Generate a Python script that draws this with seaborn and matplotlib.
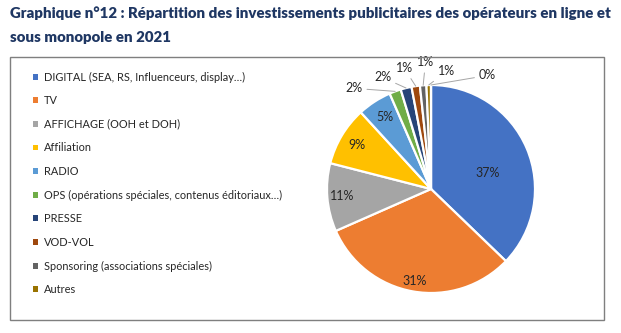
import matplotlib
matplotlib.use("Agg")
import matplotlib.pyplot as plt
import seaborn as sns
import numpy as np
from matplotlib.patches import Rectangle, Patch

# ---------------- data ----------------
categories = [
    "DIGITAL (SEA, RS, Influenceurs, display…)",
    "TV",
    "AFFICHAGE (OOH et DOH)",
    "Affiliation",
    "RADIO",
    "OPS (opérations spéciales, contenus éditoriaux…)",
    "PRESSE",
    "VOD-VOL",
    "Sponsoring (associations spéciales)",
    "Autres",
    "",
]
shares = [37.2, 31.2, 10.6, 9.2, 5.3, 1.8, 1.7, 1.3, 1.0, 0.7, 0.0]
pct_labels = ["37%", "31%", "11%", "9%", "5%", "2%", "2%", "1%", "1%", "1%", "0%"]

# ---------------- style ----------------
sns.set_theme(style="white")
plt.rcParams["font.family"] = ["Lato", "DejaVu Sans"]

colors = sns.color_palette(["#4472C4", "#ED7D31", "#A5A5A5", "#FFC000", "#5B9BD5",
                            "#70AD47", "#264478", "#9E480E", "#636363", "#997300",
                            "#698ED0"])
title_color = "#1F3763"
text_color = "#262626"

W, H = 621, 333
fig = plt.figure(figsize=(W / 100, H / 100), dpi=100)
fig.patch.set_facecolor("white")

# title
t1 = fig.text(10 / W, 1 - 13 / H,
              "Graphique n°12 : Répartition des investissements publicitaires des opérateurs en ligne et",
              fontsize=10, fontweight="heavy", color=title_color, va="center", ha="left")
t2 = fig.text(10 / W, 1 - 37 / H, "sous monopole en 2021",
              fontsize=10, fontweight="heavy", color=title_color, va="center", ha="left")
fig.canvas.draw()
w = t1.get_window_extent().width
fs = 10 * 598 / w
t1.set_fontsize(fs)
t2.set_fontsize(fs)

# frame box
fig.add_artist(Rectangle((10 / W, 1 - 320 / H), (604 - 10) / W, (320 - 57) / H,
                         transform=fig.transFigure, fill=False,
                         edgecolor="#7F7F7F", lw=1.0))

# pie axes
cx, cy, r = 431, 189, 104
ax = fig.add_axes([(cx - r) / W, (H - cy - r) / H, 2 * r / W, 2 * r / H])
wedges, _ = ax.pie(shares, colors=colors, startangle=90, counterclock=False,
                   radius=1.0, normalize=True,
                   wedgeprops=dict(edgecolor="white", linewidth=1.6))
ax.set_xlim(-1, 1)
ax.set_ylim(-1, 1)
ax.set_aspect("equal")
ax.axis("off")

# label placement: angle clockwise from top (deg) and radius fraction
label_angle = [74, None, None, None, None, 322.5, 336.5, 347.5, 357.5, 7.5, 26.5]
label_r = [0.57, 0.90, 0.86, 0.83, 0.82, 1.22, 1.17, 1.19, 1.22, 1.14, 1.22]

for i, (wdg, lab) in enumerate(zip(wedges, pct_labels)):
    mid = np.deg2rad((wdg.theta1 + wdg.theta2) / 2)
    if label_angle[i] is None:
        ang = mid
    else:
        ang = np.deg2rad(90 - label_angle[i])
    lx, ly = label_r[i] * np.cos(ang), label_r[i] * np.sin(ang)
    if label_r[i] > 1.0:
        px, py = 1.0 * np.cos(mid), 1.0 * np.sin(mid)
        ax.annotate(lab, xy=(px, py), xytext=(lx, ly), ha="center", va="center",
                    fontsize=9, color=text_color, annotation_clip=False,
                    arrowprops=dict(arrowstyle="-", color="#A6A6A6", lw=0.7,
                                    shrinkA=1, shrinkB=0))
    else:
        ax.text(lx, ly, lab, ha="center", va="center", fontsize=9, color=text_color)

# legend
handles = [Patch(facecolor=colors[i], edgecolor="none") for i in range(10)]
fig.legend(handles, categories[:10], loc="upper left",
           bbox_to_anchor=(33 / W, 1 - 71.5 / H), frameon=False,
           fontsize=7.9, handlelength=0.45, handleheight=0.45, handletextpad=0.55,
           labelspacing=1.15, borderpad=0, borderaxespad=0, labelcolor=text_color)

fig.savefig("out.png", dpi=100, facecolor="white")
